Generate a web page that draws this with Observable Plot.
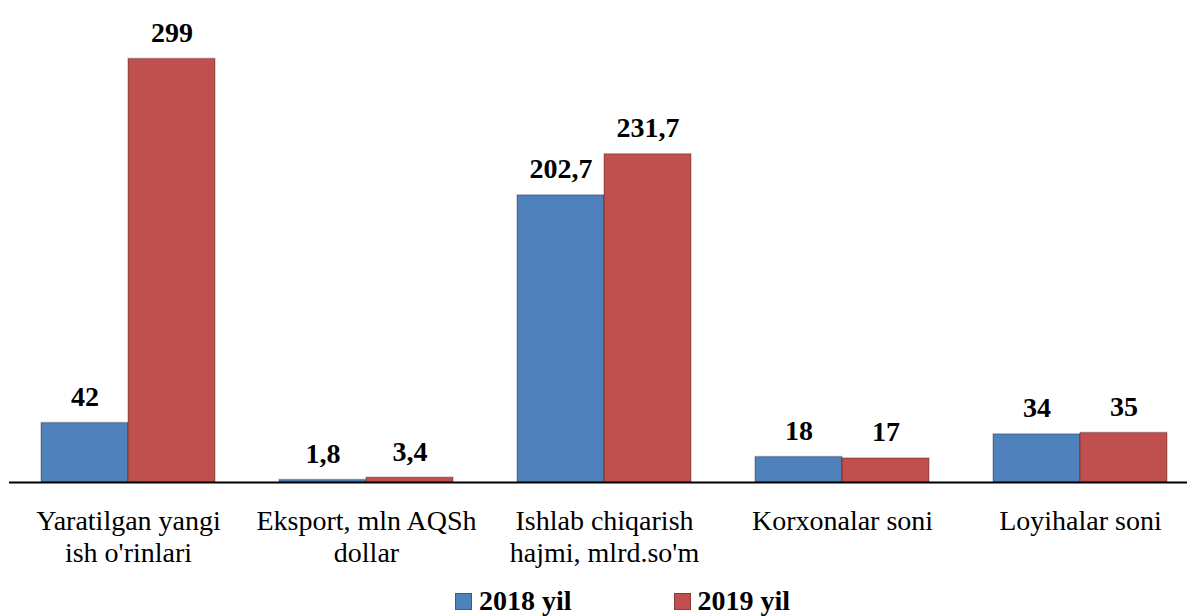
<!DOCTYPE html>
<html>
<head>
<meta charset="utf-8">
<script src="https://cdn.jsdelivr.net/npm/d3@7"></script>
<script src="https://cdn.jsdelivr.net/npm/@observablehq/plot@0.6"></script>
</head>
<body style="margin:0;background:#fff;font-family:serif">
<div id="wrap" style="position:relative;width:1187px;height:616px;overflow:hidden;color:#000;font-family:serif"></div>
<script>
const categories = [
  "Yaratilgan yangi\nish o'rinlari",
  "Eksport, mln AQSh\ndollar",
  "Ishlab chiqarish\nhajmi, mlrd.so'm",
  "Korxonalar soni",
  "Loyihalar soni"
];
const series = ["2018 yil", "2019 yil"];
const values2018 = [42, 1.8, 202.7, 18, 34];
const values2019 = [299, 3.4, 231.7, 17, 35];
const colors = ["#4F81BD", "#C0504D"];
const borders = ["#385D8A", "#8C3836"];

const rows = categories.flatMap((c, i) => [
  {category: c, series: series[0], value: values2018[i]},
  {category: c, series: series[1], value: values2019[i]}
]);
const fmt = v => String(v).replace(".", ",");
const FONT = "serif";

const chart = Plot.plot({
  width: 1187,
  height: 570,
  marginLeft: 9,
  marginRight: -12,
  marginTop: 57,
  marginBottom: 88,
  style: {fontFamily: FONT, background: "white", color: "black"},
  fx: {domain: categories, paddingInner: 0.269, paddingOuter: 0.1345, label: null},
  x: {domain: series, padding: 0, axis: null},
  y: {domain: [0, 300], axis: null},
  color: {domain: series, range: colors},
  marks: [
    Plot.barY(rows, {fx: "category", x: "series", y: "value", fill: "series", stroke: "black", strokeOpacity: 0.22, strokeWidth: 1.5}),
    Plot.ruleY([0], {stroke: "black", strokeWidth: 2, insetLeft: -32, insetRight: -32}),
    Plot.text(rows, {fx: "category", x: "series", y: "value", text: d => fmt(d.value), dy: -26, fontSize: 28, fontWeight: "bold", fontFamily: FONT, fill: "black"}),
    Plot.axisFx({anchor: "bottom", tickSize: 0, tickPadding: 25, fontSize: 28, fontFamily: FONT, lineHeight: 1.14, fill: "black", label: null})
  ]
});
chart.setAttribute("font-family", FONT);
chart.querySelectorAll("text, tspan, g").forEach(el => el.setAttribute("font-family", FONT));
const wrap = document.getElementById("wrap");
wrap.appendChild(chart);

const legend = document.createElement("div");
legend.setAttribute("style", "position:absolute;top:587px;left:455px;display:flex;font-family:serif;font-size:28px;line-height:28px;font-weight:bold;white-space:nowrap");
series.forEach((s, i) => {
  const item = document.createElement("span");
  item.setAttribute("style", "margin-right:102px");
  const sw = document.createElement("span");
  sw.setAttribute("style", `display:inline-block;width:15px;height:15px;margin-right:7px;vertical-align:baseline;border:1px solid ${borders[i]};background:${colors[i]}`);
  item.appendChild(sw);
  item.appendChild(document.createTextNode(s));
  legend.appendChild(item);
});
wrap.appendChild(legend);
</script>
</body>
</html>
